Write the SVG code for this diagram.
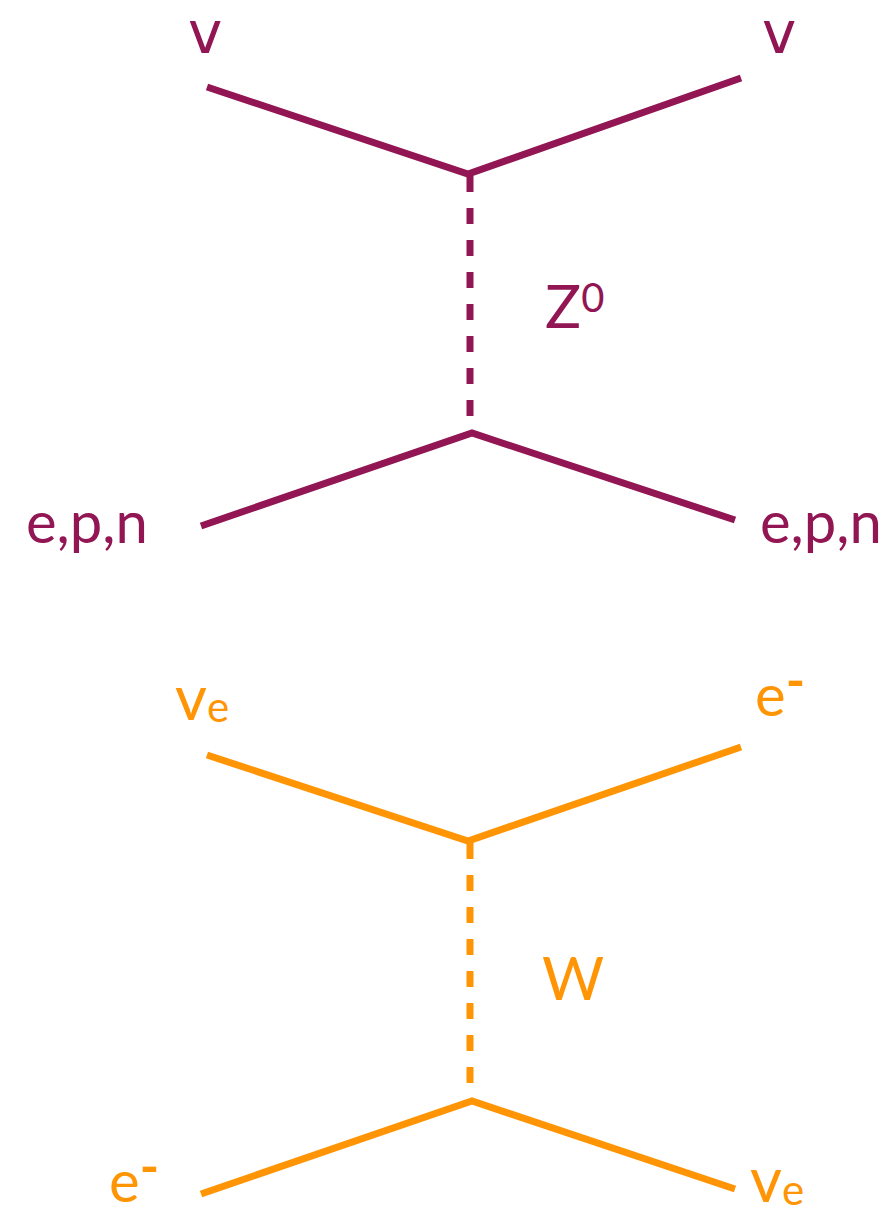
<svg xmlns="http://www.w3.org/2000/svg" width="888" height="1215" viewBox="0 0 888 1215">
<style>
.z{stroke:#911653;fill:none;stroke-width:7}
.w{stroke:#FF9505;fill:none;stroke-width:7}
.d{stroke-dasharray:16 16}
text{font-family:Lato,"Open Sans",sans-serif}
.nu{font-family:"DejaVu Sans",sans-serif}
.tz{fill:#911653}
.tw{fill:#FF9505}
</style>
<rect width="888" height="1215" fill="#fff"/>
<g id="connectors">
<path class="z" d="M207,87 L468,174 L741,78"/>
<path class="z d" d="M470,176 V431"/>
<path class="z" d="M201,526 L472,433 L735,520"/>
<path class="w" d="M207,755 L468,841 L741,747"/>
<path class="w d" d="M470,843 V1099"/>
<path class="w" d="M201,1194 L472,1101 L735,1189"/>
</g>
<g id="nu-top-left"><text class="tz nu" x="188" y="53" font-size="58">v</text></g>
<g id="nu-top-right"><text class="tz nu" x="762" y="53" font-size="58">v</text></g>
<g id="z0"><text class="tz" x="545" y="328" font-size="60">Z<tspan font-size="40" dy="-16">0</tspan></text></g>
<g id="epn-left"><text class="tz" x="26" y="543" font-size="58">e,p,n</text></g>
<g id="epn-right"><text class="tz" x="760" y="543" font-size="58">e,p,n</text></g>
<g id="nue-top-left"><text class="tw" x="175" y="720" font-size="62">v<tspan font-size="42" dy="2">e</tspan></text></g>
<g id="e-top-right"><text class="tw" x="755" y="716" font-size="58">e<tspan font-size="52" dy="-17" font-weight="bold">-</tspan></text></g>
<g id="w"><text class="tw" x="542" y="1000" font-size="60">W</text></g>
<g id="e-bottom-left"><text class="tw" x="109" y="1202" font-size="58">e<tspan font-size="52" dy="-17" font-weight="bold">-</tspan></text></g>
<g id="nue-bottom-right"><text class="tw" x="750" y="1202" font-size="62">v<tspan font-size="42" dy="3">e</tspan></text></g>
</svg>
